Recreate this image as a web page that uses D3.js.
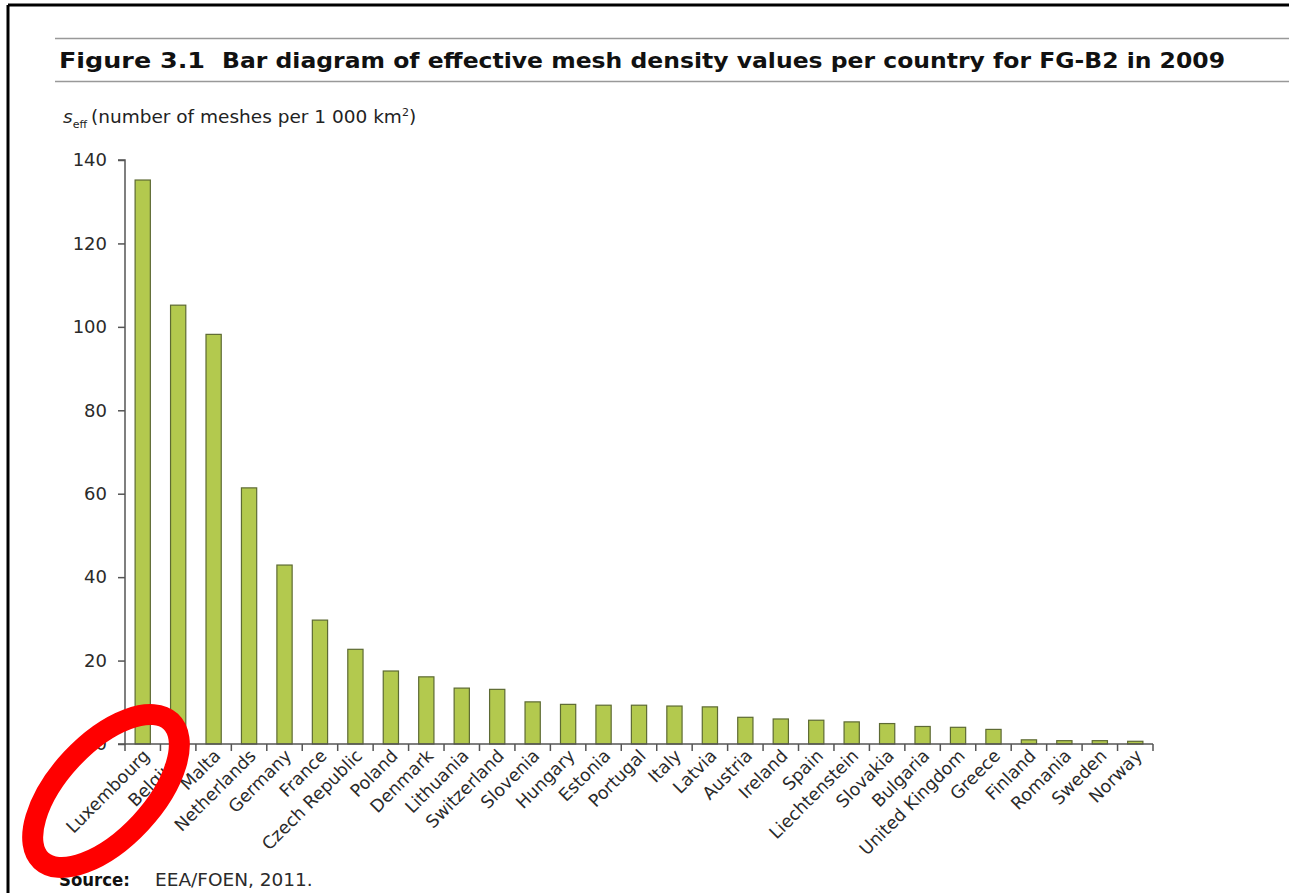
<!DOCTYPE html>
<html>
<head>
<meta charset="utf-8">
<script src="https://cdn.jsdelivr.net/npm/d3@7"></script>
<style>
  body { margin: 0; background: #fff; }
  text { font-family: "DejaVu Sans", Verdana, sans-serif; }
</style>
</head>
<body>
<div id="the_chart"></div>
<script>
var countries = ["Luxembourg", "Belgium", "Malta", "Netherlands", "Germany", "France",
    "Czech Republic", "Poland", "Denmark", "Lithuania", "Switzerland", "Slovenia",
    "Hungary", "Estonia", "Portugal", "Italy", "Latvia", "Austria", "Ireland", "Spain",
    "Liechtenstein", "Slovakia", "Bulgaria", "United Kingdom", "Greece", "Finland",
    "Romania", "Sweden", "Norway"];
var seff = [135.2, 105.2, 98.2, 61.4, 42.9, 29.7, 22.7, 17.5, 16.1, 13.4, 13.1, 10.1,
    9.5, 9.3, 9.3, 9.1, 8.9, 6.4, 6.0, 5.7, 5.3, 4.9, 4.2, 4.0, 3.5, 1.0, 0.8, 0.8, 0.65];
var yTicks = [0, 20, 40, 60, 80, 100, 120, 140];

function gen_vis() {
    var w = 1289, h = 893;
    var svg = d3.select("#the_chart").append("svg")
        .attr("width", w)
        .attr("height", h);

    // page frame (top + left edges)
    svg.append("line").attr("x1", 8).attr("x2", w).attr("y1", 5).attr("y2", 5)
        .attr("stroke", "#000").attr("stroke-width", 3);
    svg.append("line").attr("x1", 8).attr("x2", 8).attr("y1", 5).attr("y2", h)
        .attr("stroke", "#000").attr("stroke-width", 3);

    // title block
    svg.append("line").attr("x1", 55).attr("x2", w).attr("y1", 38.5).attr("y2", 38.5)
        .attr("stroke", "#999").attr("stroke-width", 1.5);
    svg.append("line").attr("x1", 55).attr("x2", w).attr("y1", 81.5).attr("y2", 81.5)
        .attr("stroke", "#999").attr("stroke-width", 1.5);
    svg.append("text").attr("x", 59).attr("y", 68)
        .style("font-weight", "bold").style("font-size", "22px").attr("fill", "#111")
        .attr("textLength", 146).attr("lengthAdjust", "spacingAndGlyphs")
        .text("Figure 3.1");
    svg.append("text").attr("x", 222).attr("y", 68)
        .style("font-weight", "bold").style("font-size", "22px").attr("fill", "#111")
        .attr("textLength", 1003).attr("lengthAdjust", "spacingAndGlyphs")
        .text("Bar diagram of effective mesh density values per country for FG-B2 in 2009");

    // y label
    var yl = svg.append("text").attr("x", 63).attr("y", 123)
        .style("font-size", "18.5px").attr("fill", "#222");
    yl.append("tspan").style("font-style", "italic").text("s");
    yl.append("tspan").attr("dy", 5).style("font-size", "11px").text("eff");
    yl.append("tspan").attr("dy", -5).attr("dx", 4).text("(number of meshes per 1 000 km");
    yl.append("tspan").attr("dy", -7).style("font-size", "11px").text("2");
    yl.append("tspan").attr("dy", 7).text(")");

    var x0 = 125, x1 = 1153, y0 = 744, y1 = 160;

    var xscale = d3.scaleBand()
        .domain(countries)
        .range([x0, x1])
        .paddingInner(0.57)
        .paddingOuter(0.285);

    var hscale = d3.scaleLinear()
        .domain([0, 140])
        .range([y0, y1]);

    svg.selectAll("rect.bar")
        .data(seff)
        .enter().append("rect")
        .attr("class", "bar")
        .attr("x", function (d, i) { return xscale(countries[i]); })
        .attr("y", function (d) { return hscale(d); })
        .attr("width", xscale.bandwidth())
        .attr("height", function (d) { return y0 - hscale(d); })
        .attr("fill", "#b3c94e")
        .attr("stroke", "#5d6a33")
        .attr("stroke-width", 1.2);

    var yaxis = d3.axisLeft(hscale)
        .tickValues(yTicks)
        .tickSize(7)
        .tickPadding(11);

    var gy = svg.append("g")
        .attr("class", "yaxis")
        .attr("transform", "translate(" + x0 + ",0)")
        .call(yaxis);
    gy.select(".domain").attr("d", "M-7," + y1 + "H0V" + y0 + "H-7");
    gy.selectAll("line, path").attr("stroke", "#555").attr("stroke-width", 1.5);
    gy.selectAll("text").style("font-size", "18px").attr("fill", "#2a2a2a")
        .style("font-family", "DejaVu Sans, Verdana, sans-serif");

    // x axis: ticks at band boundaries
    var step = xscale.step();
    var bounds = d3.range(countries.length + 1).map(function (i) { return x0 + i * step; });
    svg.append("line").attr("x1", x0).attr("x2", x1).attr("y1", y0).attr("y2", y0)
        .attr("stroke", "#555").attr("stroke-width", 1.5);
    svg.selectAll("line.xtick")
        .data(bounds)
        .enter().append("line")
        .attr("class", "xtick")
        .attr("x1", function (d) { return d; })
        .attr("x2", function (d) { return d; })
        .attr("y1", y0).attr("y2", y0 + 7)
        .attr("stroke", "#555").attr("stroke-width", 1.5);

    svg.selectAll("text.xlab")
        .data(countries)
        .enter().append("text")
        .attr("class", "xlab")
        .attr("transform", function (d) {
            var cx = xscale(d) + xscale.bandwidth() / 2 + 8;
            return "translate(" + cx + "," + (y0 + 13) + ") rotate(-45)";
        })
        .style("text-anchor", "end")
        .style("font-size", "17.5px")
        .attr("fill", "#2a2a2a")
        .text(function (d) { return d; });

    // source
    svg.append("text").attr("x", 59).attr("y", 886)
        .style("font-weight", "bold").style("font-size", "18px").attr("fill", "#111")
        .attr("textLength", 71).attr("lengthAdjust", "spacingAndGlyphs")
        .text("Source:");
    svg.append("text").attr("x", 155).attr("y", 886)
        .style("font-size", "18.5px").attr("fill", "#2a2a2a")
        .text("EEA/FOEN, 2011.");

    // red annotation ellipse
    svg.append("ellipse")
        .attr("cx", 106).attr("cy", 791)
        .attr("rx", 95).attr("ry", 47)
        .attr("transform", "rotate(-47,106,791)")
        .attr("fill", "none")
        .attr("stroke", "#ff0000")
        .attr("stroke-width", 21);
}

gen_vis();
</script>
</body>
</html>
